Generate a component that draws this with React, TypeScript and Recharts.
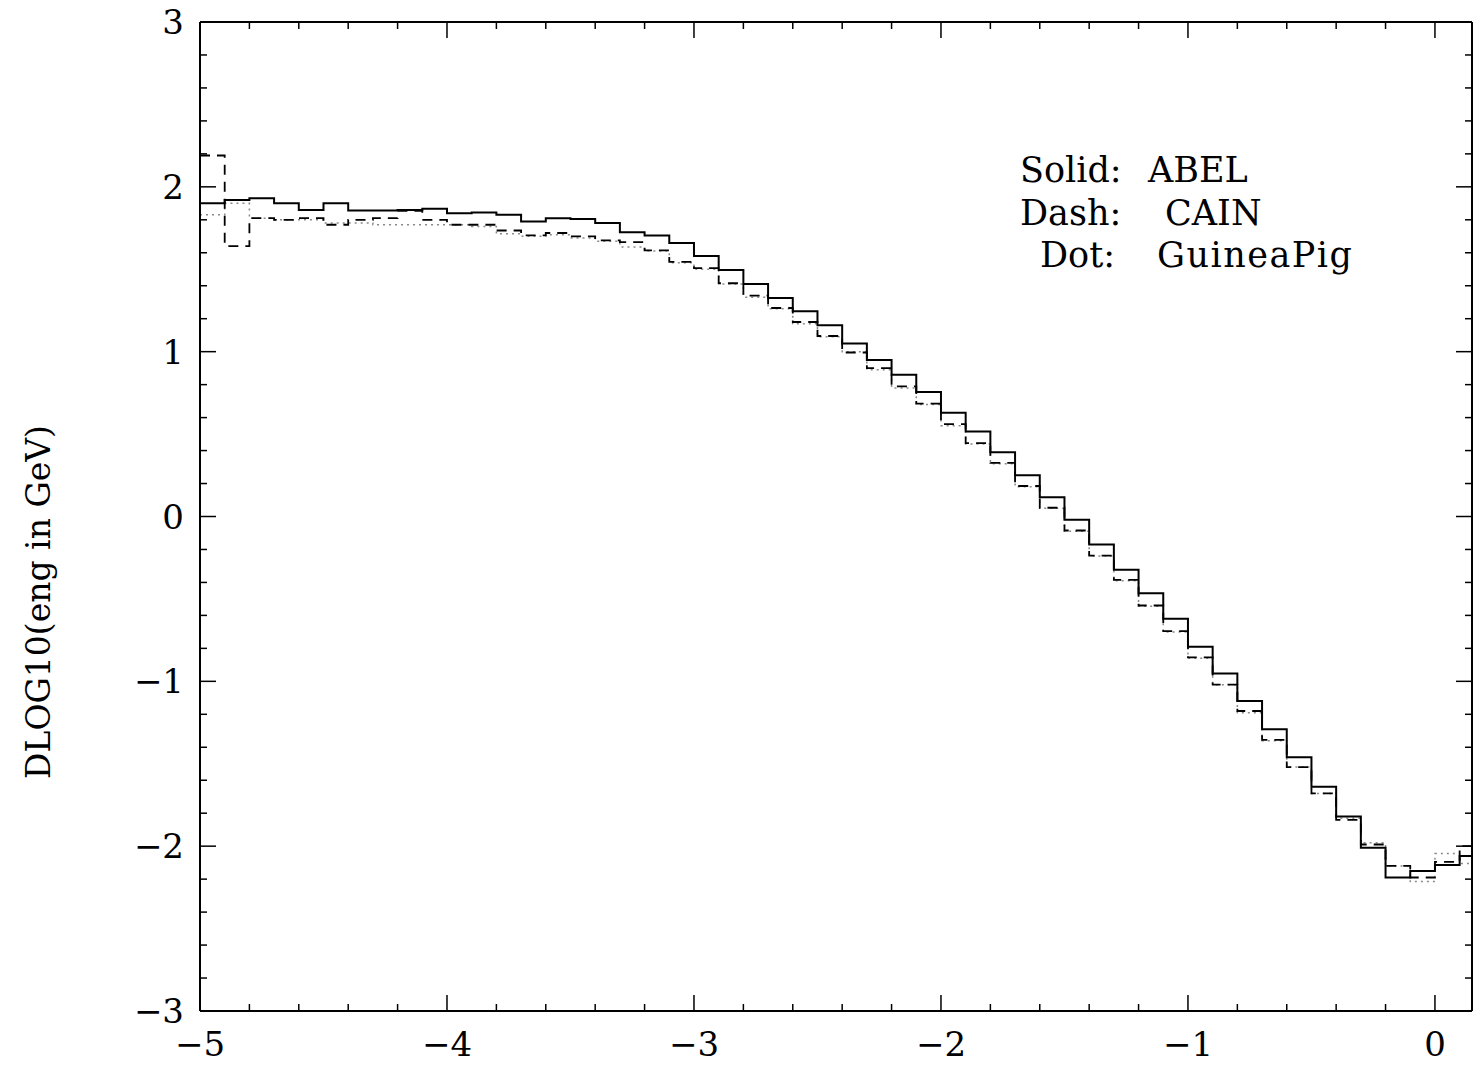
import { LineChart, Line, XAxis, YAxis } from 'recharts';

// bin edges of the histograms (last edge closes the final bin)
const binEdges = [
  -5.0, -4.9, -4.8, -4.7, -4.6, -4.5, -4.4, -4.3, -4.2, -4.1,
  -4.0, -3.9, -3.8, -3.7, -3.6, -3.5, -3.4, -3.3, -3.2, -3.1,
  -3.0, -2.9, -2.8, -2.7, -2.6, -2.5, -2.4, -2.3, -2.2, -2.1,
  -2.0, -1.9, -1.8, -1.7, -1.6, -1.5, -1.4, -1.3, -1.2, -1.1,
  -1.0, -0.9, -0.8, -0.7, -0.6, -0.5, -0.4, -0.3, -0.2, -0.1,
  0.0, 0.1, 0.2,
];

// Solid: ABEL
const abel = [
  1.90, 1.92, 1.93, 1.90, 1.86, 1.90, 1.857, 1.857, 1.86, 1.867,
  1.84, 1.845, 1.83, 1.79, 1.81, 1.805, 1.78, 1.725, 1.705, 1.66,
  1.58, 1.495, 1.41, 1.325, 1.245, 1.16, 1.05, 0.95, 0.86, 0.755,
  0.63, 0.515, 0.39, 0.25, 0.117, -0.02, -0.17, -0.323, -0.465, -0.62,
  -0.79, -0.952, -1.12, -1.29, -1.46, -1.64, -1.82, -2.01, -2.19, -2.15,
  -2.115, -2.06,
];

// Dash: CAIN
const cain = [
  2.19, 1.64, 1.81, 1.80, 1.81, 1.77, 1.80, 1.81, 1.855, 1.80,
  1.77, 1.77, 1.735, 1.705, 1.72, 1.70, 1.675, 1.665, 1.615, 1.545,
  1.507, 1.415, 1.34, 1.265, 1.18, 1.095, 0.995, 0.90, 0.79, 0.685,
  0.56, 0.445, 0.325, 0.185, 0.053, -0.085, -0.237, -0.385, -0.54, -0.695,
  -0.855, -1.02, -1.18, -1.355, -1.52, -1.68, -1.84, -1.99, -2.12, -2.19,
  -2.095, -2.00,
];

// Dot: GuineaPig
const guineaPig = [
  1.83, 1.90, 1.81, 1.80, 1.80, 1.78, 1.78, 1.77, 1.77, 1.77,
  1.77, 1.76, 1.715, 1.70, 1.71, 1.69, 1.67, 1.635, 1.61, 1.54,
  1.50, 1.41, 1.33, 1.26, 1.17, 1.09, 1.00, 0.89, 0.78, 0.68,
  0.55, 0.44, 0.32, 0.18, 0.05, -0.09, -0.24, -0.39, -0.545, -0.70,
  -0.86, -1.02, -1.19, -1.36, -1.52, -1.68, -1.83, -1.98, -2.12, -2.215,
  -2.045, -2.105,
];

const xTicks = [
  -5, -4.8, -4.6, -4.4, -4.2, -4, -3.8, -3.6, -3.4, -3.2,
  -3, -2.8, -2.6, -2.4, -2.2, -2, -1.8, -1.6, -1.4, -1.2,
  -1, -0.8, -0.6, -0.4, -0.2, 0,
];
const yTicks = [
  -3, -2.8, -2.6, -2.4, -2.2, -2, -1.8, -1.6, -1.4, -1.2,
  -1, -0.8, -0.6, -0.4, -0.2, 0, 0.2, 0.4, 0.6, 0.8,
  1, 1.2, 1.4, 1.6, 1.8, 2, 2.2, 2.4, 2.6, 2.8, 3,
];

const legendRows = [
  { key: 'Solid:', name: 'ABEL', kx: 1020, nx: 1148, y: 182 },
  { key: 'Dash:', name: 'CAIN', kx: 1020, nx: 1165, y: 225 },
  { key: 'Dot:', name: 'GuineaPig', kx: 1040, nx: 1157, y: 267 },
];

const FONT = '"DejaVu Serif", "Liberation Serif", serif';
const MAJOR = 16;
const MINOR = 7;

const isMajor = (v: number) => Math.abs(v - Math.round(v)) < 1e-6;
const fmt = (v: number) => (v < 0 ? '\u2212' + Math.abs(Math.round(v)) : String(Math.round(v)));

const BottomTick = ({ x, y, payload }: any) => {
  const major = isMajor(payload.value);
  return (
    <g>
      <line x1={x} x2={x} y1={y} y2={y - (major ? MAJOR : MINOR)} stroke="#000" strokeWidth={1.5} />
      {major && (
        <text x={x} y={y + 45} textAnchor="middle" fontFamily={FONT} fontSize={34} fill="#000">
          {fmt(payload.value)}
        </text>
      )}
    </g>
  );
};

const TopTick = ({ x, y, payload }: any) => {
  const major = isMajor(payload.value);
  return <line x1={x} x2={x} y1={y} y2={y + (major ? MAJOR : MINOR)} stroke="#000" strokeWidth={1.5} />;
};

const LeftTick = ({ x, y, payload }: any) => {
  const major = isMajor(payload.value);
  return (
    <g>
      <line x1={x} x2={x + (major ? MAJOR : MINOR)} y1={y} y2={y} stroke="#000" strokeWidth={1.5} />
      {major && (
        <text x={x - 16} y={y + 12} textAnchor="end" fontFamily={FONT} fontSize={34} fill="#000">
          {fmt(payload.value)}
        </text>
      )}
    </g>
  );
};

const RightTick = ({ x, y, payload }: any) => {
  const major = isMajor(payload.value);
  return <line x1={x} x2={x - (major ? MAJOR : MINOR)} y1={y} y2={y} stroke="#000" strokeWidth={1.5} />;
};

export default function App() {
  const rows = binEdges.map((x, i) => {
    const j = Math.min(i, abel.length - 1);
    return { x, abel: abel[j], cain: cain[j], gp: guineaPig[j] };
  });

  const frame = { stroke: '#000', strokeWidth: 2 };

  return (
    <div style={{ position: 'absolute', left: 0, top: 0, width: 1473, height: 1066, background: '#fff' }}>
      <LineChart width={1473} height={1066} data={rows} margin={{ top: 0, right: 0, bottom: 0, left: 0 }}>
        <XAxis
          xAxisId="b" dataKey="x" type="number" domain={[-5, 0.15]} allowDataOverflow
          ticks={xTicks} interval={0} height={55} tickSize={0} tickMargin={0}
          axisLine={frame} tickLine={false} tick={BottomTick}
        />
        <XAxis
          xAxisId="t" orientation="top" dataKey="x" type="number" domain={[-5, 0.15]} allowDataOverflow
          ticks={xTicks} interval={0} height={22} tickSize={0} tickMargin={0}
          axisLine={frame} tickLine={false} tick={TopTick}
        />
        <YAxis
          yAxisId="l" type="number" domain={[-3, 3]} allowDataOverflow
          ticks={yTicks} interval={0} width={200} tickSize={0} tickMargin={0}
          axisLine={frame} tickLine={false} tick={LeftTick}
        />
        <YAxis
          yAxisId="r" orientation="right" type="number" domain={[-3, 3]} allowDataOverflow
          ticks={yTicks} interval={0} width={1} tickSize={0} tickMargin={0}
          axisLine={frame} tickLine={false} tick={RightTick}
        />
        <Line
          xAxisId="b" yAxisId="l" type="stepAfter" dataKey="gp" stroke="#8a8a8a"
          strokeWidth={1.5} strokeDasharray="2 4" dot={false} activeDot={false} isAnimationActive={false}
        />
        <Line
          xAxisId="b" yAxisId="l" type="stepAfter" dataKey="cain" stroke="#000"
          strokeWidth={1.8} strokeDasharray="10 7" dot={false} activeDot={false} isAnimationActive={false}
        />
        <Line
          xAxisId="b" yAxisId="l" type="stepAfter" dataKey="abel" stroke="#000"
          strokeWidth={2} dot={false} activeDot={false} isAnimationActive={false}
        />
      </LineChart>

      <svg width={1473} height={1066} style={{ position: 'absolute', left: 0, top: 0, pointerEvents: 'none' }}>
        {legendRows.map((r) => (
          <g key={r.key} fontFamily={FONT} fontSize={35} fill="#000">
            <text x={r.kx} y={r.y}>{r.key}</text>
            <text x={r.nx} y={r.y} letterSpacing={r.name === 'GuineaPig' ? 1.5 : 0}>{r.name}</text>
          </g>
        ))}
        <text
          x={0} y={0} transform="translate(50, 602) rotate(-90)" textAnchor="middle"
          fontFamily={FONT} fontSize={33} fill="#000"
        >
          DLOG10(eng in GeV)
        </text>
      </svg>
    </div>
  );
}
